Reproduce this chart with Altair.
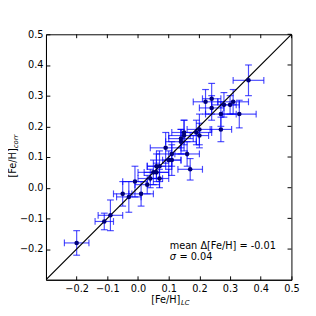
import altair as alt
import pandas as pd

fe_lc   = [-0.20, -0.11, -0.09, -0.05, -0.03, -0.01, 0.01, 0.03, 0.04, 0.05, 0.06, 0.06, 0.07, 0.07,
           0.09, 0.10, 0.11, 0.11, 0.14, 0.14, 0.15, 0.15, 0.16, 0.17, 0.19, 0.20, 0.20,
           0.22, 0.24, 0.24, 0.27, 0.27, 0.28, 0.30, 0.31, 0.33, 0.36]
fe_corr = [-0.18, -0.11, -0.09, -0.02, -0.03, 0.02, -0.02, 0.01, 0.03, 0.05, 0.05, 0.07, 0.07, 0.03,
           0.13, 0.09, 0.09, 0.11, 0.15, 0.16, 0.17, 0.18, 0.11, 0.06, 0.18, 0.19, 0.17,
           0.28, 0.29, 0.26, 0.24, 0.19, 0.27, 0.27, 0.28, 0.24, 0.35]
err_lc  = [0.04, 0.03, 0.04, 0.03, 0.04, 0.04, 0.04, 0.04, 0.04, 0.05, 0.04, 0.03, 0.04, 0.03,
           0.05, 0.04, 0.03, 0.05, 0.05, 0.04, 0.05, 0.04, 0.04, 0.04, 0.05, 0.04, 0.03,
           0.04, 0.03, 0.04, 0.05, 0.035, 0.04, 0.03, 0.05, 0.055, 0.05]
err_corr = [0.04, 0.027, 0.05, 0.04, 0.05, 0.05, 0.04, 0.03, 0.03, 0.04, 0.03, 0.04, 0.05, 0.03,
            0.05, 0.03, 0.05, 0.04, 0.04, 0.03, 0.05, 0.04, 0.04, 0.035, 0.04, 0.05, 0.04,
            0.04, 0.05, 0.04, 0.04, 0.04, 0.04, 0.03, 0.04, 0.045, 0.05]

axis_domain = [-0.3, 0.5]
tick_values = [-0.2, -0.1, 0.0, 0.1, 0.2, 0.3, 0.4, 0.5]

df = pd.DataFrame({"x": fe_lc, "y": fe_corr, "ex": err_lc, "ey": err_corr})
line_df = pd.DataFrame({"v": axis_domain})
tick_df = pd.DataFrame({"t": tick_values})

FONT = "DejaVu Sans"
xs = alt.Scale(domain=axis_domain, nice=False, zero=False)
ys = alt.Scale(domain=axis_domain, nice=False, zero=False)

xaxis = alt.Axis(values=tick_values, format=".1f", title=None, grid=False,
                 tickSize={"expr": "-4"}, labelPadding=8, labelFont=FONT, labelFontSize=10,
                 labelColor="black", tickColor="black", domainColor="black", labelFlush=False)
yaxis = alt.Axis(values=tick_values, format=".1f", title=None, grid=False,
                 tickSize={"expr": "-4"}, labelPadding=7, labelFont=FONT, labelFontSize=10,
                 labelColor="black", tickColor="black", domainColor="black", labelFlush=False)

base = alt.Chart(df).transform_calculate(
    xlo="datum.x - datum.ex", xhi="datum.x + datum.ex",
    ylo="datum.y - datum.ey", yhi="datum.y + datum.ey")

BAR = "#0000ff"
OP = 0.7

def X(f):
    return alt.X(f, scale=xs, axis=xaxis, title=None)

def Y(f):
    return alt.Y(f, scale=ys, axis=yaxis, title=None)

xbar = base.mark_rule(color=BAR, opacity=OP, strokeWidth=1.2).encode(
    x=X("xlo:Q"), x2="xhi:Q", y=Y("y:Q"))
xcap_lo = base.mark_tick(color=BAR, opacity=OP, orient="vertical", size=7, thickness=1.2).encode(
    x=X("xlo:Q"), y=Y("y:Q"))
xcap_hi = base.mark_tick(color=BAR, opacity=OP, orient="vertical", size=7, thickness=1.2).encode(
    x=X("xhi:Q"), y=Y("y:Q"))
ybar = base.mark_rule(color=BAR, opacity=OP, strokeWidth=1.2).encode(
    x=X("x:Q"), y=Y("ylo:Q"), y2="yhi:Q")
ycap_lo = base.mark_tick(color=BAR, opacity=OP, orient="horizontal", size=7, thickness=1.2).encode(
    x=X("x:Q"), y=Y("ylo:Q"))
ycap_hi = base.mark_tick(color=BAR, opacity=OP, orient="horizontal", size=7, thickness=1.2).encode(
    x=X("x:Q"), y=Y("yhi:Q"))

pts = alt.Chart(df).mark_circle(color="#00007a", opacity=1, size=22).encode(
    x=X("x:Q"), y=Y("y:Q"))

diag = alt.Chart(line_df).mark_line(color="black", strokeWidth=1.1, clip=True).encode(
    x=X("v:Q"), y=Y("v:Q"))

# mirrored inward ticks on top / right edges
top_ticks = alt.Chart(tick_df).mark_rule(color="black", strokeWidth=1).encode(
    x=X("t:Q"), y=alt.value(0), y2=alt.value(4))
right_ticks = alt.Chart(tick_df).mark_rule(color="black", strokeWidth=1).encode(
    y=Y("t:Q"), x=alt.value(248), x2=alt.value(252))

def txt(s, x, y, size=10, **kw):
    return alt.Chart(pd.DataFrame({"t": [s]})).mark_text(
        font=FONT, fontSize=size, color="black", **kw).encode(
        text="t:N", x=alt.value(x), y=alt.value(y))

labels = [
    txt("[Fe/H]", 138, 273, align="right", baseline="middle"),
    txt("LC", 138.5, 276, size=7, align="left", baseline="middle", fontStyle="italic"),
    txt("[Fe/H]", -34, 117, angle=270, align="right", baseline="middle"),
    txt("corr", -31, 117, size=7, angle=270, align="left", baseline="middle", fontStyle="italic"),
    txt("mean \u0394[Fe/H] = -0.01", 127, 217, align="left", baseline="middle"),
    txt("\u03c3", 127, 229, align="left", baseline="middle", fontStyle="italic"),
    txt("= 0.04", 137, 229, align="left", baseline="middle"),
]

chart = alt.layer(xbar, xcap_lo, xcap_hi, ybar, ycap_lo, ycap_hi, diag, pts,
                  top_ticks, right_ticks, *labels).properties(
    width=252, height=252,
    autosize=alt.AutoSizeParams(type="none"),
    padding={"left": 39, "top": 23, "right": 17, "bottom": 25},
).configure_view(stroke="black", strokeWidth=1)

chart.save("out.html", embed_options={"renderer": "svg", "actions": False})
